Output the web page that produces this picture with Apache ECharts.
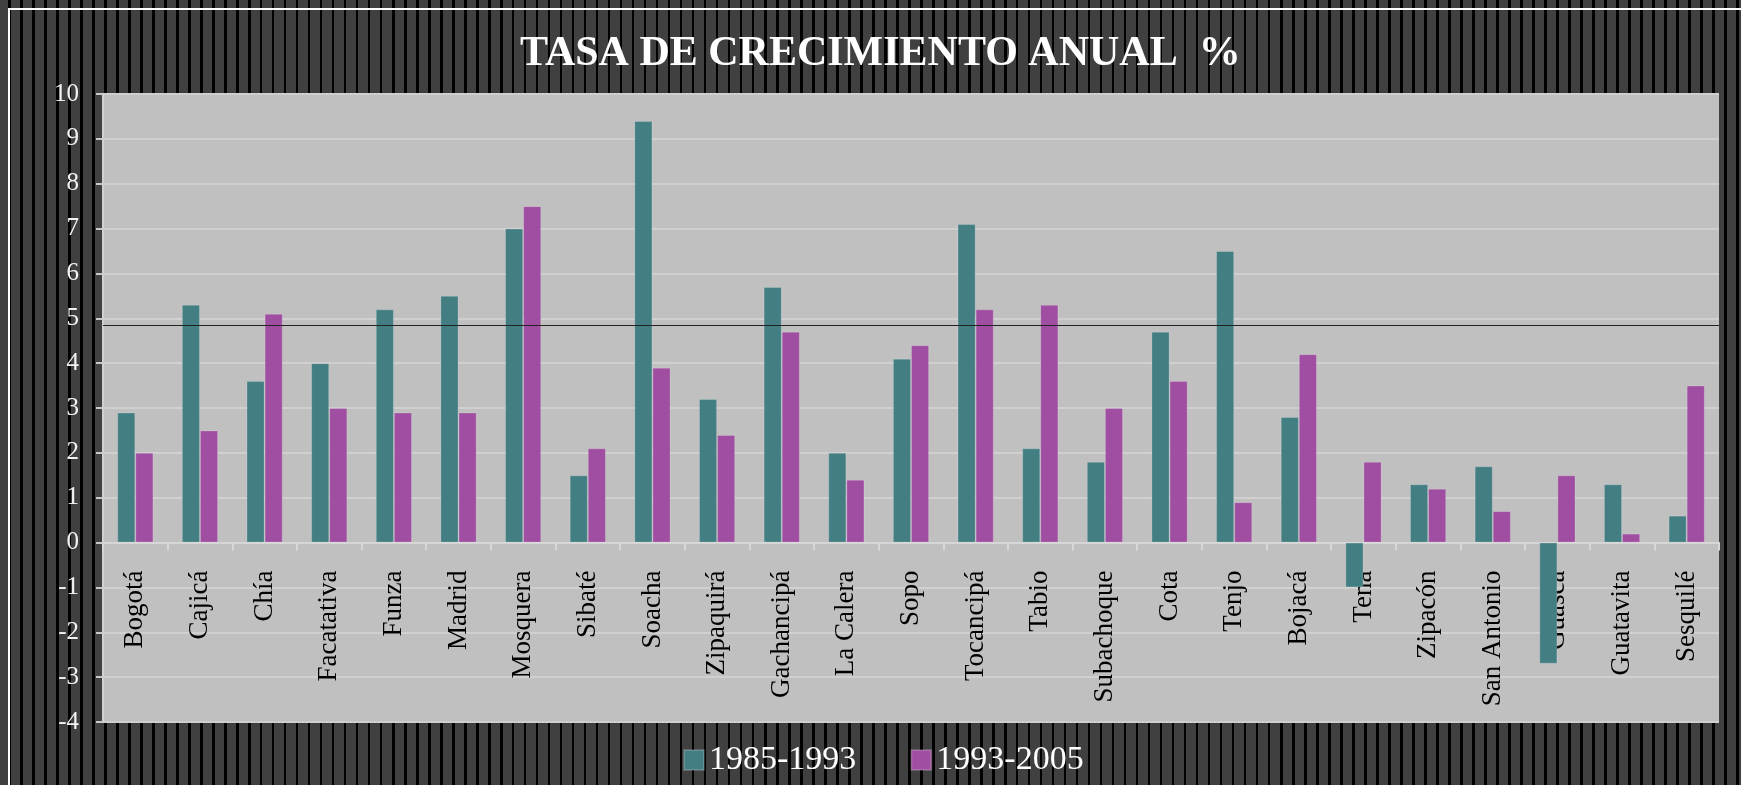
<!DOCTYPE html>
<html>
<head>
<meta charset="utf-8">
<script src="https://cdn.jsdelivr.net/npm/echarts@6/dist/echarts.min.js"></script>
<style>
  html, body { margin: 0; padding: 0; background: #404040; }
  #wrap {
    width: 1741px; height: 785px; position: relative;
    background: repeating-linear-gradient(90deg, #404040 0px, #404040 8px, #000 8px, #000 10.5px, #404040 10.5px, #404040 12px);
  }
  #chart { width: 1741px; height: 785px; position: absolute; left: 0; top: 0; }
  .edge-left { position: absolute; left: 0; top: 0; width: 8px; height: 785px; background: #404040; }
  .frame-top { position: absolute; left: 8px; top: 8px; width: 1733px; height: 2px; background: #fff; }
  .frame-left { position: absolute; left: 8px; top: 8px; width: 2px; height: 777px; background: #fff; }
</style>
</head>
<body>
<div id="wrap">
  <div class="edge-left"></div>
  <div class="frame-top"></div>
  <div class="frame-left"></div>
  <div id="chart"></div>
</div>
<script>
const municipios = ['Bogotá', 'Cajicá', 'Chía', 'Facatativa', 'Funza', 'Madrid', 'Mosquera', 'Sibaté',
  'Soacha', 'Zipaquirá', 'Gachancipá', 'La Calera', 'Sopo', 'Tocancipá', 'Tabio', 'Subachoque',
  'Cota', 'Tenjo', 'Bojacá', 'Tena', 'Zipacón', 'San Antonio', 'Guasca', 'Guatavita', 'Sesquilé'];

// 1985-1993
const tasa8593 = [2.9, 5.3, 3.6, 4.0, 5.2, 5.5, 7.0, 1.5, 9.4, 3.2, 5.7, 2.0, 4.1, 7.1, 2.1, 1.8,
  4.7, 6.5, 2.8, -1.0, 1.3, 1.7, -2.7, 1.3, 0.6];
// 1993-2005
const tasa9305 = [2.0, 2.5, 5.1, 3.0, 2.9, 2.9, 7.5, 2.1, 3.9, 2.4, 4.7, 1.4, 4.4, 5.2, 5.3, 3.0,
  3.6, 0.9, 4.2, 1.8, 1.2, 0.7, 1.5, 0.2, 3.5];

const seriesNames = ['1985-1993', '1993-2005'];
const refLine = 4.84;
const yMin = -4, yMax = 10;

const serif = '"Liberation Serif", "DejaVu Serif", serif';
const gridColor = '#d0d0d0';

// plot box; the category axis is lifted from the bottom edge up to the zero line
const gridTop = 94, gridBottom = 63;
const plotH = 785 - gridTop - gridBottom;
const zeroOffset = -plotH * (0 - yMin) / (yMax - yMin);

const chart = echarts.init(document.getElementById('chart'));

chart.setOption({
  backgroundColor: 'transparent',
  animation: false,
  title: {
    text: 'TASA DE CRECIMIENTO ANUAL  %',
    left: 520,
    top: 33,
    padding: 0,
    textStyle: { color: '#fff', fontFamily: serif, fontWeight: 'bold', fontSize: 42 }
  },
  legend: {
    data: seriesNames,
    left: 683,
    top: 743,
    padding: 0,
    icon: 'rect',
    itemWidth: 20,
    itemHeight: 20,
    itemGap: 54,
    textStyle: { color: '#fff', fontFamily: serif, fontSize: 34 }
  },
  grid: {
    left: 103, right: 22, top: gridTop, bottom: gridBottom,
    outerBoundsMode: 'none',
    containLabel: false,
    show: true, backgroundColor: '#c0c0c0', borderWidth: 0
  },
  xAxis: {
    type: 'category',
    data: municipios,
    position: 'bottom',
    offset: zeroOffset,
    axisLine: { onZero: false, lineStyle: { color: '#d6d6d6', width: 2 } },
    axisTick: { show: true, interval: 0, length: 8, lineStyle: { color: '#d6d6d6', width: 2 } },
    axisLabel: {
      interval: 0, rotate: 90, margin: 28,
      color: '#000', fontFamily: serif, fontSize: 27
    },
    splitLine: { show: false }
  },
  yAxis: {
    type: 'value',
    min: yMin, max: yMax, interval: 1,
    axisLine: { show: true, lineStyle: { color: gridColor, width: 2 } },
    axisTick: { show: true, length: 7, lineStyle: { color: '#c8c8c8', width: 2 } },
    axisLabel: { color: '#f2f2f2', fontFamily: serif, fontSize: 25, margin: 24 },
    splitLine: { lineStyle: { color: gridColor, width: 2 } }
  },
  series: [
    {
      name: seriesNames[0],
      type: 'bar',
      data: tasa8593,
      barGap: '0%',
      barCategoryGap: '44%',
      itemStyle: { color: '#437e83', borderColor: 'rgba(255,255,255,0.18)', borderWidth: 1 },
      markLine: {
        silent: true,
        symbol: 'none',
        label: { show: false },
        lineStyle: { color: '#222', width: 1, type: 'solid' },
        data: [{ yAxis: refLine }]
      }
    },
    {
      name: seriesNames[1],
      type: 'bar',
      data: tasa9305,
      itemStyle: { color: '#a04ea1', borderColor: 'rgba(255,255,255,0.18)', borderWidth: 1 }
    }
  ]
});
</script>
</body>
</html>
